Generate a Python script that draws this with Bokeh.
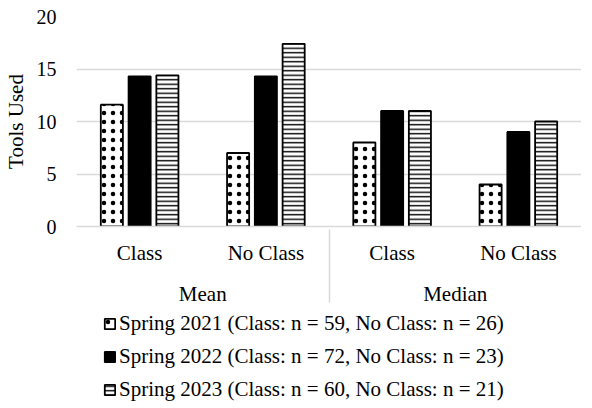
from bokeh.plotting import figure
from bokeh.layouts import column
from bokeh.models import FactorRange, Range1d, Legend, LegendItem, FixedTicker
from bokeh.transform import dodge
from bokeh.embed import file_html
from bokeh.resources import INLINE

stats = ["Mean", "Mean", "Median", "Median"]
groups = ["Class", "No Class", "Class", "No Class"]
series_names = [
    "Spring 2021 (Class: n = 59, No Class: n = 26)",
    "Spring 2022 (Class: n = 72, No Class: n = 23)",
    "Spring 2023 (Class: n = 60, No Class: n = 21)",
]
spring2021 = [11.6, 7.0, 8.0, 4.0]
spring2022 = [14.3, 14.3, 11.0, 9.0]
spring2023 = [14.4, 17.4, 11.0, 10.0]
y_ticks = [0, 5, 10, 15, 20]

factors = list(zip(stats, groups))
data = dict(x=factors, s1=spring2021, s2=spring2022, s3=spring2023)

FONT = "Liberation Serif"

p = figure(
    frame_width=505, frame_height=210,
    x_range=FactorRange(*factors, group_padding=0, factor_padding=0, range_padding=0),
    y_range=Range1d(0, 20),
    output_backend="svg", toolbar_location=None,
    min_border_left=0, min_border_right=0, min_border_top=16, min_border_bottom=0,
)
p.outline_line_color = None

bw = 0.175
off = 0.22
style1 = dict(fill_color="white", line_color="black", line_width=1.8,
              hatch_pattern="dot", hatch_color="black", hatch_scale=9, hatch_weight=0.5)
style2 = dict(fill_color="black", line_color="black", line_width=1.8)
style3 = dict(fill_color="white", line_color="black", line_width=1.8,
              hatch_pattern="horizontal_line", hatch_color="black", hatch_scale=4.5, hatch_weight=1.4)

p.vbar(x=dodge("x", -off, range=p.x_range), top="s1", width=bw, source=data, **style1)
p.vbar(x=dodge("x", 0, range=p.x_range), top="s2", width=bw, source=data, **style2)
p.vbar(x=dodge("x", off, range=p.x_range), top="s3", width=bw, source=data, **style3)

# y axis
p.yaxis.ticker = FixedTicker(ticks=y_ticks)
p.yaxis.axis_line_color = None
p.yaxis.major_tick_line_color = None
p.yaxis.minor_tick_line_color = None
p.yaxis.major_tick_out = 0
p.yaxis.major_label_text_font = FONT
p.yaxis.major_label_text_font_size = "20px"
p.yaxis.major_label_text_color = "black"
p.yaxis.major_label_standoff = 20
p.yaxis.axis_label = "Tools Used"
p.yaxis.axis_label_text_font = FONT
p.yaxis.axis_label_text_font_size = "21px"
p.yaxis.axis_label_text_font_style = "normal"
p.yaxis.axis_label_text_color = "black"
p.yaxis.axis_label_standoff = 6

p.ygrid.grid_line_color = "#d9d9d9"
p.ygrid.grid_line_width = 1.5
p.xgrid.grid_line_color = None

# x axis (two-level categories)
xa = p.xaxis[0]
xa.axis_line_color = "#d9d9d9"
xa.axis_line_width = 1.5
xa.major_tick_line_color = None
xa.major_tick_out = 0
xa.major_label_text_font = FONT
xa.major_label_text_font_size = "21px"
xa.major_label_text_color = "black"
xa.group_text_font = FONT
xa.group_text_font_size = "21px"
xa.group_text_font_style = "normal"
xa.group_text_color = "black"
xa.separator_line_color = "#d9d9d9"
xa.separator_line_width = 1.5
xa.major_label_standoff = 14

# legend in its own strip below the chart (its renderers are hidden; only legend swatches show)
lf = figure(width=576, height=94, output_backend="svg", toolbar_location=None,
            x_range=FactorRange(*factors), y_range=Range1d(-1000, -999),
            x_axis_location=None, y_axis_location=None,
            min_border_left=0, min_border_right=0, min_border_top=0, min_border_bottom=0)
lf.outline_line_color = None
lf.grid.grid_line_color = None
l1 = lf.vbar(x="x", top="s1", width=bw, source=data, **style1)
l2 = lf.vbar(x="x", top="s2", width=bw, source=data, **style2)
l3 = lf.vbar(x="x", top="s3", width=bw, source=data, **style3)
for r in (l1, l2, l3):
    r.visible = False

items = [LegendItem(label=series_names[0], renderers=[l1], index=0),
         LegendItem(label=series_names[1], renderers=[l2], index=0),
         LegendItem(label=series_names[2], renderers=[l3], index=0)]
legend = Legend(items=items, orientation="vertical", location=(27, 0),
                label_text_font=FONT, label_text_font_size="21px",
                label_text_color="black", glyph_width=13, glyph_height=13,
                spacing=8, label_standoff=3, border_line_color=None,
                background_fill_alpha=0, padding=0, margin=0,
                inactive_fill_alpha=0)
lf.add_layout(legend)

layout = column(p, lf, spacing=0)
open("out.html", "w").write(file_html(layout, INLINE))
